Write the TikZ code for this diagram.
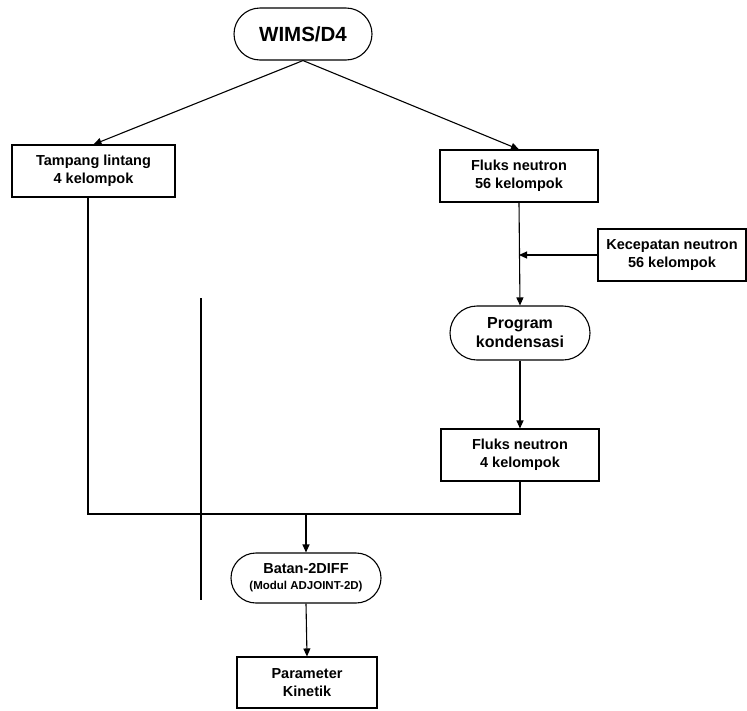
\documentclass[tikz,border=0pt]{standalone}
\usepackage{fontspec}
\setmainfont{Liberation Sans}
\usetikzlibrary{arrows.meta}
\begin{document}
\begin{tikzpicture}[x=1pt,y=-1pt,
  line width=1.1pt,
  txt/.style={font=\bfseries\fontsize{14.5}{18}\selectfont},
  box/.style={draw, txt, align=center, inner sep=0pt},
  term/.style={box},
  arr/.style={-{Triangle[length=8pt,width=7pt]}}]
\useasboundingbox (0,0) rectangle (747,710);
\node[term, rounded corners=26pt, minimum width=138pt, minimum height=52pt, font=\bfseries\fontsize{20.5}{24}\selectfont] (wims) at (303,34) {WIMS/D4};
\node[box, minimum width=163pt, minimum height=52pt] (tamp) at (93.5,171) {Tampang lintang\\4 kelompok};
\node[box, minimum width=158pt, minimum height=52pt] (fl56) at (519,176) {Fluks neutron\\56 kelompok};
\node[box, minimum width=148pt, minimum height=52pt] (kec) at (672,255) {Kecepatan neutron\\56 kelompok};
\node[term, rounded corners=27pt, minimum width=140pt, minimum height=54pt, font=\bfseries\fontsize{16}{19}\selectfont] (prog) at (520,333) {Program\\kondensasi};
\node[box, minimum width=158pt, minimum height=52pt] (fl4) at (520,455) {Fluks neutron\\4 kelompok};
\node[term, rounded corners=25pt, minimum width=150pt, minimum height=50pt, align=center] (batan) at (306,578) {Batan-2DIFF\\[-2pt]{\fontsize{11.5}{13}\selectfont (Modul ADJOINT-2D)}};
\node[box, minimum width=140pt, minimum height=51pt] (param) at (307,682.5) {Parameter\\Kinetik};
\coordinate (tl) at ([xshift=-5.5pt]tamp.south);
\coordinate (jl) at (tl |- 0,514);
\coordinate (jr) at (fl4.south |- 0,514);
\coordinate (jm) at (batan.north |- 0,514);
\coordinate (kj) at (fl56.south |- kec.west);
\coordinate (s1) at (201,298);
\coordinate (s2) at (201,600);
\draw[arr] (wims.south) -- (tamp.north);
\draw[arr] (wims.south) -- (fl56.north);
\draw[arr] (fl56.south) -- (prog.north);
\draw[arr] (kec.west) -- (kj);
\draw[arr] (prog.south) -- (fl4.north);
\draw (tl) -- (jl) -- (jr) -- (fl4.south);
\draw[arr] (jm) -- (batan.north);
\draw[arr] (batan.south) -- (param.north);
\draw (s1) -- (s2);
\end{tikzpicture}
\end{document}
